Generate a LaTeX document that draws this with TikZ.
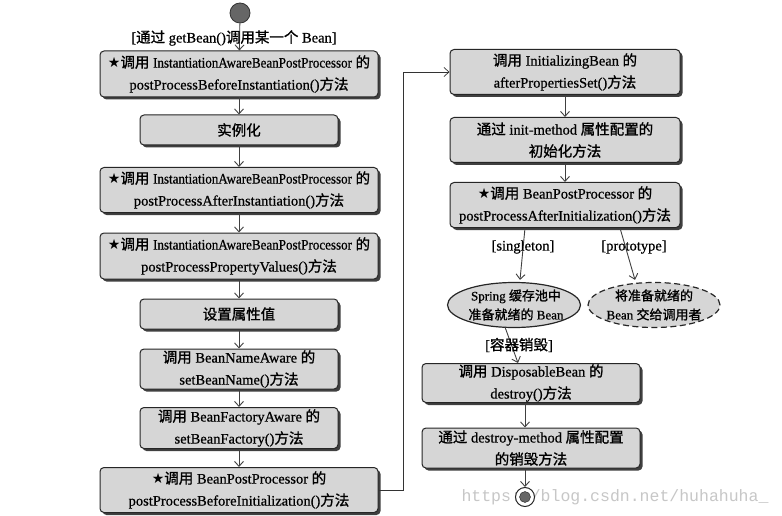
\documentclass[tikz,border=0pt]{standalone}
\usepackage{fontspec}
\usepackage{graphicx}
\setmainfont[FakeBold=0.6]{Liberation Serif}
\newfontfamily\cjk[FakeBold=1.2]{Noto Sans CJK SC}
\newfontfamily\symf{DejaVu Sans}
\newfontfamily\wmf{Liberation Mono}
\usetikzlibrary{arrows.meta,shapes.geometric,shadows}
\newcommand\zh[1]{{\cjk #1}}
\newcommand\stt{{\symf\fontsize{14}{14}\selectfont ★}}
\newcommand\nar[1]{\scalebox{0.9}[1]{#1}}
\tikzset{
  box/.style={draw=black!85, line width=1pt, fill=black!16, rounded corners=4pt,
    drop shadow={shadow xshift=2.5pt, shadow yshift=-2.5pt, fill=black!75, opacity=1},
    align=center, inner sep=0pt, font=\fontsize{14.5}{22}\selectfont},
  oval/.style={ellipse, draw=black!85, line width=1.2pt, fill=black!16, inner sep=0pt},
  ovaltext/.style={align=center, inner sep=0pt, font=\fontsize{13}{19}\selectfont},
  arr/.style={-{Straight Barb[length=5pt,width=9pt]}, draw=black!75, line width=0.9pt},
  lbl/.style={font=\fontsize{14.5}{16}\selectfont, inner sep=0pt}
}
\begin{document}
\begin{tikzpicture}[x=1pt,y=-1pt]
\useasboundingbox[fill=white] (0,0) rectangle (782,516);
\node[circle, draw=black!80, fill=black!60, minimum size=20pt, inner sep=0pt, line width=0.8pt] (st) at (240,13) {};
\node[box, minimum width=278pt, minimum height=46pt] (b1) at (239,74) {\stt\zh{调用} \nar{InstantiationAwareBeanPostProcessor} \zh{的}\\postProcessBeforeInstantiation()\zh{方法}};
\node[box, minimum width=198pt, minimum height=30pt] (b2) at (239,130) {\zh{实例化}};
\node[box, minimum width=278pt, minimum height=45pt] (b3) at (239,190) {\stt\zh{调用} \nar{InstantiationAwareBeanPostProcessor} \zh{的}\\postProcessAfterInstantiation()\zh{方法}};
\node[box, minimum width=278pt, minimum height=46pt] (b4) at (239,256) {\stt\zh{调用} \nar{InstantiationAwareBeanPostProcessor} \zh{的}\\postProcessPropertyValues()\zh{方法}};
\node[box, minimum width=198pt, minimum height=30pt] (b5) at (239,314) {\zh{设置属性值}};
\node[box, minimum width=198pt, minimum height=40pt] (b6) at (239,369) {\zh{调用} BeanNameAware \zh{的}\\setBeanName()\zh{方法}};
\node[box, minimum width=198pt, minimum height=41pt] (b7) at (239,428) {\zh{调用} BeanFactoryAware \zh{的}\\setBeanFactory()\zh{方法}};
\node[box, minimum width=278pt, minimum height=45pt] (b8) at (239,490) {\stt\zh{调用} BeanPostProcessor \zh{的}\\postProcessBeforeInitialization()\zh{方法}};
\node[box, minimum width=230pt, minimum height=45pt] (b9) at (565,72) {\zh{调用} InitializingBean \zh{的}\\afterPropertiesSet()\zh{方法}};
\node[box, minimum width=230pt, minimum height=45pt] (b10) at (565,140) {\zh{通过} init-method \zh{属性配置的}\\\zh{初始化方法}};
\node[box, minimum width=230pt, minimum height=45pt] (b11) at (565,205) {\stt\zh{调用} BeanPostProcessor \zh{的}\\postProcessAfterInitialization()\zh{方法}};
\node[oval, minimum width=133pt, minimum height=45pt] (e1) at (514,305) {};
\node[ovaltext] (e1t) at (516,305) {Spring \zh{缓存池中}\\\zh{准备就绪的} Bean};
\node[oval, dashed, dash pattern=on 6pt off 3.5pt, minimum width=132pt, minimum height=45pt] (e2) at (654,305) {};
\node[ovaltext] (e2t) at (e2) {\zh{将准备就绪的}\\Bean \zh{交给调用者}};
\node[box, minimum width=218pt, minimum height=39pt] (b12) at (531,383) {\zh{调用} DisposableBean \zh{的}\\destroy()\zh{方法}};
\node[box, minimum width=218pt, minimum height=40pt] (b13) at (531,448) {\zh{通过} destroy-method \zh{属性配置}\\\zh{的销毁方法}};
\node[font=\wmf\fontsize{16.5}{18}\selectfont, text=black!22, inner sep=0pt] (wm) at (615,497) {https://blog.csdn.net/huhahuha\_};
\node[circle, draw=black!85, fill=white, line width=1pt, minimum size=19pt, inner sep=0pt] (en) at (525,497) {};
\node[circle, draw=black!85, fill=black!60, minimum size=11pt, inner sep=0pt] (enin) at (en) {};
\coordinate (bend) at (403,0);
% connectors
\draw[arr] (st) -- (b1);
\draw[arr] (b1) -- (b2);
\draw[arr] (b2) -- (b3);
\draw[arr] (b3) -- (b4);
\draw[arr] (b4) -- (b5);
\draw[arr] (b5) -- (b6);
\draw[arr] (b6) -- (b7);
\draw[arr] (b7) -- (b8);
\draw[arr, draw=black!80, line width=0.7pt] (b8.east) -- (b8.east -| bend) -- (b9.west -| bend) -- (b9.west);
\draw[arr] (b9) -- (b10);
\draw[arr] (b10) -- (b11);
\draw[arr] ([xshift=-40pt]b11.south) -- ([xshift=6pt,yshift=2pt]e1.north);
\draw[arr] ([xshift=55pt]b11.south) -- ([xshift=-19pt,yshift=2pt]e2.north);
\draw[arr] ([xshift=-9pt,yshift=1pt]e1.south) -- ([xshift=-13pt]b12.north);
\draw[arr] (b12.south -| en) -- (b13.north -| en);
\draw[arr] (b13.south -| en) -- (en);
% labels
\node[lbl] (l0) at (234,38) {[\zh{通过} getBean()\zh{调用某一个} Bean]};
\node[lbl] (l1) at (523,247) {[singleton]};
\node[lbl] (l2) at (634,247) {[prototype]};
\node[lbl] (l3) at (519,345) {[\zh{容器销毁}]};
\end{tikzpicture}
\end{document}
